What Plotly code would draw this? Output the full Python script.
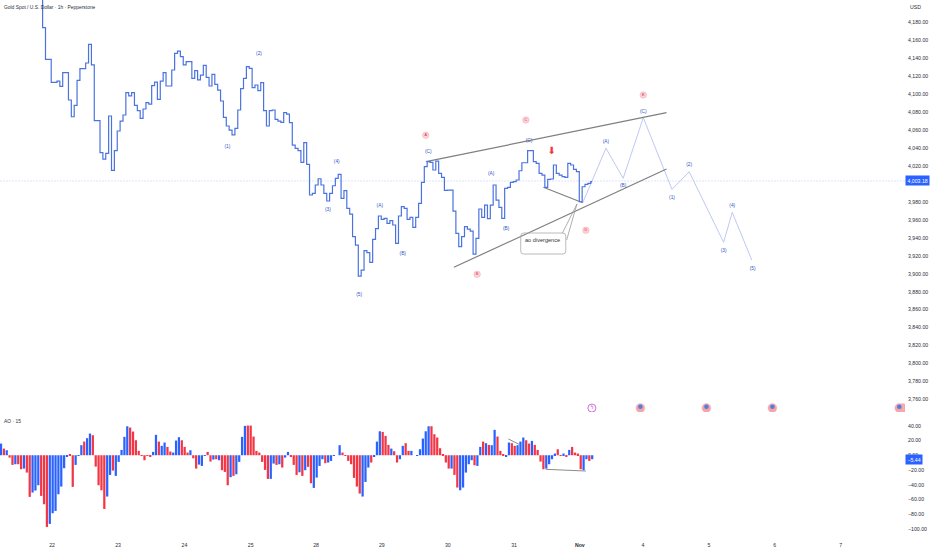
import plotly.graph_objects as go

price_start_index = 14
price_closes = [4250, 4173.8, 4138.6, 4138.6, 4113, 4113, 4114.4, 4108.5, 4123.7, 4123.7, 4093.3, 4074.7, 4087.4, 4115.2,
    4128.2, 4128.2, 4134.5, 4155.3, 4132.3, 4070.3, 4070.3, 4034.7, 4027.6, 4033.9, 4075.5, 4015, 4036.9, 4058.8,
    4069.9, 4076.6, 4101.5, 4097.8, 4101.5, 4087.4, 4081.4, 4072.9, 4083.3, 4090.3, 4088.8, 4109.3, 4113.3, 4094,
    4114.4, 4123.7, 4108.9, 4108.9, 4126.7, 4145.2, 4147.8, 4141.5, 4132.3, 4136, 4136, 4117.4, 4126, 4115.6, 4121.1,
    4131.9, 4118.5, 4108.9, 4121.9, 4110.7, 4104.4, 4092.2, 4074, 4064.4, 4059.9, 4054.4, 4061.8, 4082.2, 4105.9,
    4117.4, 4130.4, 4128.5, 4107, 4110, 4103.7, 4112.6, 4081.4, 4064.4, 4081.4, 4082.2, 4071.8, 4069.9, 4068.4, 4079.2,
    4077.7, 4068.1, 4043.2, 4039.5, 4036.9, 4023.9, 4045.8, 4021.7,
    3987.6, 3989.4, 3998.7, 4005.7, 3998.7, 3989.4, 3980.9, 3989.4, 3997.9, 4006.1, 4010.6, 3983.8, 3992.4, 3972.7,
    3966.4, 3941.2, 3931.9, 3897.4, 3904.1, 3925.6, 3923.4, 3912.6, 3938.2, 3950.1, 3964.2, 3960.5, 3961.6, 3956, 3959,
    3954.2, 3933.8, 3964.2, 3974.6, 3972.7, 3960.5, 3962.7, 3951.6, 3962.7, 3978.3, 4001.6, 4019.1, 4024.7, 4023.9,
    4015.4, 4025.4, 4011.7, 4007.2, 3992.8, 3993.1, 3993.1, 3969.7, 3944.9, 3930.1, 3941.2, 3952.3, 3949.7, 3947.5,
    3921.9, 3939.3, 3972, 3962.7, 3976.4, 3961.2, 3976.4, 3998.7, 3982, 3973.8, 3961.6, 3995, 3996.1, 4001.6, 4002.4,
    4004.3, 4014.6, 4023.5, 4023.5, 4036.9, 4036.9, 4024.7, 4022.8, 4011.7, 4009.8, 3996.1, 4005, 4005.4, 4021, 4011.7,
    4009.8, 4008, 4007.2, 4022.8, 4021, 4016.1, 4013.5, 3980.1, 3996.8, 3999.4, 4000.5, 4002.4]

ao_values = [
    15.8, 9, 6.8, -3.2, -13.1, -12.2, -12.2, -19, -18.1, -23.5,
    -56.5, -50.6, -47.9, -40.7, -55.1, -66.4, -97.2, -93.1, -78.6, -75.5,
    -52.9, -42.5, -17.6, -2.3, 1.4, -42.9, -13.1, -0.5, 13.6, 18.5,
    23.1, 29.4, 27.1, -15.4, -40.7, -47.5, -72.8, -56, -26.7, -20.8,
    -28, -9, 7.2, 24.9, 39.3, 37.5, 32.1, 20.3, 5.9, -0.9,
    -6.8, -0.9, -1.4, 4.5, 27.6, 18.5, 12.7, 17.2, 11.3, 5,
    3.6, 19.9, 24.4, 20.3, 11.3, 3.6, 6.8, -4.1, -18.1, -12.7,
    -14.5, -0.5, 4.5, -8.6, -5.9, -5.4, -6.8, -20.3, -22.6, -40.7,
    -29.8, -28, -25.8, -9, 24.9, 39.8, 40.2, 40.2, 25.3, 5.9,
    3.6, -9, -19.9, -32.1, -32.1, -11.3, -13.1, -12.2, -16.7, -3.2,
    4.5, -2.3, -13.1, -26.7, -23.1, -28, -20.3, -15.8, -38, -44.3,
    -30.3, -14.5, -5.4, -10.8, -9.9, -7.7, -0.9, 0, 13.6, 3.6,
    -0.9, -7.7, -12.2, -30.7, -42.5, -52, -56, -36.2, -16.7, -9.9,
    -2.3, 18.5, 32.5, 31.6, 26.2, 14, 9, 5.4, -9.9, -5.4,
    12.7, 16.3, 5.9, 5.9, 0, -0.9, 8.1, 22.6, 32.5, 39.3,
    39.3, 28.5, 24, 9.5, 1.4, -9.9, -18.1, -18.1, -26.7, -43.8,
    -47.5, -43.8, -23.5, -12.2, -6.8, -13.6, -14.5, 11.3, 18.5, 16.3,
    14, 13.6, 34.4, 25.3, 5.9, 0.5, -1.8, 17.2, 16.3, 12.7,
    13.6, 18.5, 24, 20.3, 15.8, 19.4, 14, 7.2, -8.6, -19,
    -18.1, -12.2, -5.4, 2.3, 8.1, -0.9, 2.3, -1.8, 7.2, 11.3,
    3.6, 2.3, -19, -20.3, -5.4, -7.7, -5.4]
ao_kinds = ("BRBRRBRRBR" "RBBBRRRBBB" "BBBBRRBBBR" "BBRRRRRBBR" "BBBBBRRRRR"
            "RRRBBRBBRR" "BBBRRRBRRB" "BBRRBRBRRR" "BRBBBBRRRR" "RRRRBBRBRB"
            "BRRRBRBRRB" "BBBRBBBBBR" "RRRRRRBBBR" "BBBRRRBRRB" "BRRBBBBBBB"
            "RRRRRRRBRR" "BBBBBRBBRB" "RBBRRRBBRR" "BBBRRBRRRR" "BBBBRRBRBR"
            "RRRBBRB")

tick_positions = [17.8, 40.8, 63.9, 87, 109.8, 132.7, 155.7, 178.8, 201.7, 223.7, 246.7, 269.6, 292.6]
tick_labels = ["22", "23", "24", "25", "28", "29", "30", "31", "<b>Nov</b>", "4", "5", "6", "7"]
price_ticks = [4180, 4160, 4140, 4120, 4100, 4080, 4060, 4040, 4020, 3980, 3960, 3940, 3920, 3900, 3880, 3860, 3840, 3820, 3800, 3780, 3760]
ao_ticks = [40, 20, 0, -20, -40, -60, -80, -100]

last_price = 4003.18
last_ao = -5.44

upper_x, upper_y = [148.1, 231.9], [4024.7, 4079.2]
lower_x, lower_y = [157.8, 231.9], [3907.1, 4016.5]
div_x, div_y = [189, 202.7], [3996.2, 3979]
call1_x, call1_y = [195.6, 200.7], [3945, 3977.6]
call2_x, call2_y = [197.1, 200.7], [3937.5, 3977.6]
proj_x = [202.7, 210.8, 216.8, 223.8, 233.8, 239.8, 251.8, 254.8, 261.6]
proj_y = [3979, 4039.6, 4006.2, 4073.6, 3993.9, 4013.5, 3934.9, 3968.3, 3915.2]
ao_div1_x, ao_div1_y = [176.8, 180.5], [22, 14.8]
ao_div2_x, ao_div2_y = [189.8, 203.8], [-19.1, -21.4]

wave_text = ["(1)", "(2)", "(3)", "(4)", "(5)", "(A)", "(B)", "(C)", "(A)", "(B)", "(C)", "(A)", "(B)", "(C)", "(1)", "(2)", "(3)", "(4)", "(5)"]
wave_x = [78.9, 89.9, 113.9, 117, 124.8, 132, 140, 148.9, 170.8, 176, 184, 210.8, 216.8, 223.8, 233.8, 239.8, 251.8, 254.8, 261.9]
wave_y = [4041.3, 4144.5, 3970.9, 4024.7, 3876.3, 3976.1, 3921.9, 4035.1, 4011.3, 3950.1, 4047.7, 4046.9, 3997.6, 4080.7, 3985, 4021, 3926, 3975.3, 3905.6]
circ_text = ["A", "B", "C", "D", "E"]
circ_x = [148, 165.9, 182.9, 203.8, 223.8]
circ_y = [4054, 3899.3, 4071.1, 3948.3, 4098.9]
arrow_x, arrow_y = [191.9], [4035.8]
flag_x = [314.2, 222.8, 245.8, 268.8, 313]
bolt_x = [205.9]
icon_y = 3750.5

BLUE = "#2962ff"
RED = "#f23645"
LINE = "#4b73e0"
GREY = "#7f7f7f"
FONT = "Liberation Sans"

fig = go.Figure()
def seg(x, y, color=GREY, width=1.1, yaxis="y"):
    fig.add_trace(go.Scatter(x=x, y=y, mode="lines", yaxis=yaxis, line=dict(color=color, width=width), hoverinfo="skip"))

fig.add_trace(go.Scatter(x=[-0.35, 315], y=[last_price, last_price], mode="lines",
                         line=dict(color="#d3def9", width=0.8, dash="2px,1px"), hoverinfo="skip"))
seg(proj_x, proj_y, color="#b4c3f0", width=0.9)
seg(upper_x, upper_y, width=1.2)
seg(lower_x, lower_y, width=1.2)
seg(div_x, div_y, width=1.1)
seg(call1_x, call1_y, color="#9a9a9a", width=0.8)
seg(call2_x, call2_y, color="#9a9a9a", width=0.8)

fig.add_trace(go.Scatter(x=list(range(price_start_index, price_start_index + len(price_closes))), y=price_closes,
                         mode="lines", line=dict(color=LINE, width=1.2, shape="hvh"), hoverinfo="skip"))

fig.add_trace(go.Scatter(x=wave_x, y=wave_y, mode="text", text=wave_text,
                         textfont=dict(family=FONT, size=4.8, color="#2f55c8"), hoverinfo="skip"))
fig.add_trace(go.Scatter(x=circ_x, y=circ_y, mode="markers+text", text=circ_text,
                         marker=dict(size=6.5, color="#fbd3d8", line=dict(color="#f7a8b0", width=0.5)),
                         textfont=dict(family=FONT, size=3.8, color="#d92b3a"), textposition="middle center", hoverinfo="skip"))
fig.add_trace(go.Scatter(x=arrow_x, y=arrow_y, mode="text", text=["\u2b07"],
                         textfont=dict(family="DejaVu Sans", size=10, color=RED), textposition="middle center", hoverinfo="skip"))

fig.add_trace(go.Scatter(x=flag_x, y=[icon_y] * len(flag_x), mode="markers",
                         marker=dict(size=9, color="#f4a3aa", line=dict(color="#f5c6ca", width=0.6)), hoverinfo="skip"))
fig.add_trace(go.Scatter(x=flag_x[1:], y=[icon_y + 1.5] * (len(flag_x) - 1), mode="markers",
                         marker=dict(size=4.5, color="#4f7fd8"), hoverinfo="skip"))
fig.add_trace(go.Scatter(x=bolt_x, y=[icon_y] * len(bolt_x), mode="markers+text", text=["ϟ"],
                         marker=dict(size=8, color="white", line=dict(color="#c35fd9", width=0.9)),
                         textfont=dict(family=FONT, size=5.5, color="#c35fd9"), textposition="middle center", hoverinfo="skip"))

fig.add_trace(go.Bar(x=list(range(len(ao_values))), y=ao_values, yaxis="y2", width=0.78,
                     marker=dict(color=[BLUE if k == "B" else RED for k in ao_kinds], line=dict(width=0)),
                     hoverinfo="skip"))
seg(ao_div1_x, ao_div1_y, width=0.9, yaxis="y2")
seg(ao_div2_x, ao_div2_y, width=0.9, yaxis="y2")

tick_font = dict(family=FONT, size=5.2, color="#2a2e39")
small_font = dict(family=FONT, size=4.9, color="#2a2e39")
fig.update_layout(
    width=932, height=550, autosize=False, showlegend=False, barmode="overlay",
    paper_bgcolor="white", plot_bgcolor="white",
    margin=dict(l=0, r=27, t=0, b=15),
    xaxis=dict(range=[-0.35, 315], anchor="y2", showgrid=False, zeroline=False, showline=False, ticks="",
               tickmode="array", tickvals=tick_positions, ticktext=tick_labels, tickfont=tick_font, tickangle=0,
               ticklabelstandoff=6),
    yaxis=dict(domain=[0.2299, 1], range=[3746.1, 4204.6], side="right", showgrid=False, zeroline=False, showline=False,
               ticks="", tickmode="array", tickvals=price_ticks, ticktext=[f"{v:,.2f}" for v in price_ticks], tickfont=tick_font,
               ticklabelstandoff=2),
    yaxis2=dict(domain=[0, 0.228], range=[-108.1, 57.2], side="right", showgrid=False, zeroline=False, showline=False,
                ticks="", tickmode="array", tickvals=ao_ticks,
                ticktext=[f"{v:.2f}".replace("-", "\u2212") for v in ao_ticks], tickfont=tick_font, anchor="x",
                ticklabelstandoff=2),
    shapes=[dict(type="path", xref="x", yref="y", layer="above",
                 path="M 182.1 3945.3 L 195.8 3945.3 Q 196.8 3945.3 196.8 3942 L 196.8 3925.2 Q 196.8 3921.9 195.8 3921.9 "
                      "L 182.1 3921.9 Q 181.1 3921.9 181.1 3925.2 L 181.1 3942 Q 181.1 3945.3 182.1 3945.3 Z",
                 line=dict(color="#a8a8a8", width=0.8))],
    annotations=[
        dict(x=181.9, y=3937, xref="x", yref="y", xanchor="left", text="ao divergence", showarrow=False,
             font=dict(family=FONT, size=5.6, color="#333333")),
        dict(x=0.0022, xref="x domain", yref="paper", y=1 - 7 / 535, xanchor="left", yanchor="middle", showarrow=False,
             text="Gold Spot / U.S. Dollar · 1h · Pepperstone", font=small_font),
        dict(x=0.0022, xref="x domain", yref="paper", y=1 - 421 / 535, xanchor="left", yanchor="middle", showarrow=False,
             text="AO · 15", font=small_font),
        dict(x=1, xref="x domain", yref="paper", y=1 - 7 / 535, xanchor="left", xshift=3, yanchor="middle", showarrow=False,
             text="USD", font=tick_font),
        dict(x=1, xref="x domain", yref="y", y=last_price, xanchor="left", xshift=0, yanchor="middle", showarrow=False,
             text=f"{last_price:,.2f}", bgcolor=BLUE, borderpad=1.5, font=dict(family=FONT, size=5.2, color="white")),
        dict(x=1, xref="x domain", yref="y2", y=last_ao, xanchor="left", xshift=0, yanchor="middle", showarrow=False,
             text=f"{last_ao:.2f}".replace("-", "\u2212"), bgcolor=BLUE, borderpad=1.5, font=dict(family=FONT, size=5.2, color="white")),
    ],
)
fig.write_html("out.html", config=dict(displayModeBar=False),
               post_script="document.body.style.margin='0';document.body.style.overflow='hidden';")
